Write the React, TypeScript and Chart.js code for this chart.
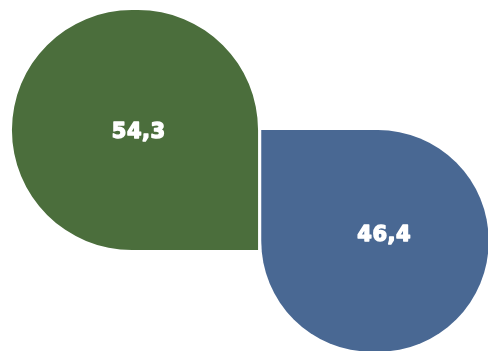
import React, { useEffect, useRef } from 'react';
import { Chart, registerables } from 'chart.js';

Chart.register(...registerables);

const categories = ['A', 'B'];
const values = [54.3, 46.4];
const colors = ['#4b6e3c', '#496893'];
const valueLabels = values.map((v) => v.toFixed(1).replace('.', ','));

export default function App() {
  const ref = useRef<HTMLCanvasElement>(null);

  useEffect(() => {
    if (!ref.current) return;
    // area-proportional sizing: side ∝ sqrt(value)
    const sizes = values.map((v) => Math.sqrt(v));
    const yMax = sizes[1] + sizes[0] / 2;
    const ranges: [number, number][] = [
      [sizes[1] - sizes[0] / 2, yMax],
      [0, sizes[1]],
    ];
    const PX_PER_UNIT_X = 33.4;
    const BIG = 9999;
    const radii = [
      { topLeft: BIG, topRight: BIG, bottomLeft: BIG, bottomRight: 0 },
      { topLeft: 0, topRight: BIG, bottomLeft: BIG, bottomRight: BIG },
    ];
    const labelOffsets = [
      [3.5, 0],
      [9, -8],
    ];

    const labelPlugin = {
      id: 'valueLabels',
      afterDatasetsDraw(chart: any) {
        const ctx = chart.ctx as CanvasRenderingContext2D;
        ctx.save();
        ctx.fillStyle = '#ffffff';
        ctx.strokeStyle = '#ffffff';
        ctx.lineWidth = 1.4;
        ctx.lineJoin = 'round';
        ctx.font = 'bold 21px "DejaVu Sans"';
        (ctx as any).letterSpacing = '0.5px';
        ctx.textAlign = 'center';
        ctx.textBaseline = 'alphabetic';
        chart.data.datasets.forEach((_: any, i: number) => {
          const el = chart.getDatasetMeta(i).data[i];
          if (!el) return;
          const { x, y, base } = el.getProps(['x', 'y', 'base'], true);
          const cy = (y + base) / 2;
          const tx = x + labelOffsets[i][0] + 0.25;
          const ty = cy + labelOffsets[i][1] + 7.6;
          ctx.strokeText(valueLabels[i], tx, ty);
          ctx.fillText(valueLabels[i], tx, ty);
        });
        ctx.restore();
      },
    };

    const chart = new Chart(ref.current, {
      type: 'bar',
      data: {
        labels: categories,
        datasets: values.map((_, i) => ({
          label: categories[i],
          data: categories.map((__, j) => (j === i ? ranges[i] : null)),
          backgroundColor: colors[i],
          borderWidth: 0,
          borderSkipped: false,
          borderRadius: radii[i],
          inflateAmount: 0,
          barThickness: sizes[i] * PX_PER_UNIT_X,
          grouped: false,
          clip: false,
        })) as any,
      },
      options: {
        responsive: true,
        maintainAspectRatio: false,
        animation: false,
        layout: { padding: { left: 15, right: 0, top: 10, bottom: 0 } },
        scales: {
          x: { type: 'category', display: false, offset: true },
          y: { type: 'linear', display: false, min: 0, max: yMax },
        },
        plugins: {
          legend: { display: false },
          tooltip: { enabled: false },
        },
      },
      plugins: [labelPlugin],
    });
    return () => chart.destroy();
  }, []);

  return (
    <div
      style={{
        position: 'fixed',
        left: 0,
        top: 0,
        width: 488,
        height: 351,
        overflow: 'hidden',
        background: '#ffffff',
      }}
    >
      <div style={{ position: 'relative', width: 495, height: 352 }}>
        <canvas ref={ref} />
      </div>
    </div>
  );
}
